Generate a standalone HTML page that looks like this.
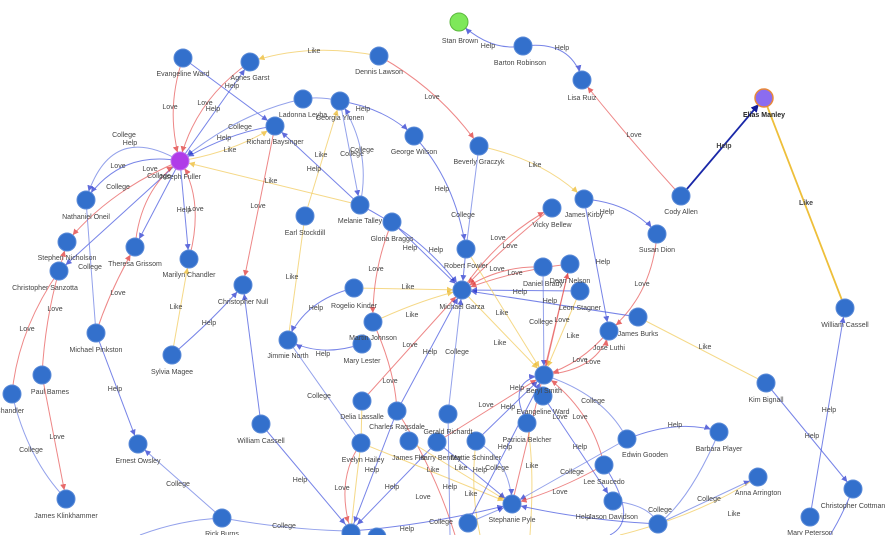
<!DOCTYPE html>
<html><head><meta charset="utf-8"><style>
html,body{margin:0;padding:0;background:#fff;width:885px;height:535px;overflow:hidden}
svg{display:block}
text{font-family:"Liberation Sans",sans-serif;font-size:7px;fill:#444;text-anchor:middle}
.h{stroke:#4a5be0;fill:none;stroke-width:1;opacity:.75}
.c{stroke:#6f82e4;fill:none;stroke-width:1;opacity:.75}
.l{stroke:#e85f5f;fill:none;stroke-width:1;opacity:.75}
.k{stroke:#f3cf6a;fill:none;stroke-width:1;opacity:.8}
.n{fill:#3370cc;stroke:#5a8ad8;stroke-width:1}
</style></head><body>
<svg width="885" height="535" viewBox="0 0 885 535">
<defs>
<marker id="ah" viewBox="0 0 6 6" refX="15" refY="3" markerWidth="6" markerHeight="6" markerUnits="userSpaceOnUse" orient="auto"><path d="M0,0L6,3L0,6z" fill="#2a3ad0"/></marker>
<marker id="al" viewBox="0 0 6 6" refX="15" refY="3" markerWidth="6" markerHeight="6" markerUnits="userSpaceOnUse" orient="auto"><path d="M0,0L6,3L0,6z" fill="#e03a3a"/></marker>
<marker id="ak" viewBox="0 0 6 6" refX="15" refY="3" markerWidth="6" markerHeight="6" markerUnits="userSpaceOnUse" orient="auto"><path d="M0,0L6,3L0,6z" fill="#eebf3a"/></marker>
<marker id="ab" viewBox="0 0 6 6" refX="12" refY="3" markerWidth="8" markerHeight="8" markerUnits="userSpaceOnUse" orient="auto"><path d="M0,0L6,3L0,6z" fill="#101a9a"/></marker>
</defs>
<g>
<path class="h" d="M523,46 Q490,52 459,22" marker-end="url(#ah)"/>
<path class="h" d="M523,46 Q572,40 582,80" marker-end="url(#ah)"/>
<path class="l" d="M681,196 Q630,140 582,80" marker-end="url(#al)"/>
<path d="M681,196 L764,98" stroke="#1a28a8" stroke-width="1.8" fill="none" marker-end="url(#ab)"/>
<path d="M845,308 L764,98" stroke="#eebf3a" stroke-width="1.8" fill="none"/>
<path class="k" d="M379,56 Q310,42 250,62" marker-end="url(#ak)"/>
<path class="l" d="M379,56 Q440,90 479,146" marker-end="url(#al)"/>
<path class="l" d="M183,58 Q165,110 180,161" marker-end="url(#al)"/>
<path class="h" d="M183,58 L275,126" marker-end="url(#ah)"/>
<path class="l" d="M250,62 Q195,100 180,161" marker-end="url(#al)"/>
<path class="h" d="M180,161 L250,62" marker-end="url(#ah)"/>
<path class="c" d="M303,99 Q240,112 180,161" marker-end="url(#ah)"/>
<path class="h" d="M275,126 Q230,132 180,161" marker-end="url(#ah)"/>
<path class="k" d="M180,161 Q235,152 275,126" marker-end="url(#ak)"/>
<path class="k" d="M360,205 L180,161" marker-end="url(#ak)"/>
<path class="c" d="M303,99 Q320,96 340,101"/>
<path class="h" d="M340,101 Q385,108 414,136" marker-end="url(#ah)"/>
<path class="c" d="M340,101 L360,205" marker-end="url(#ah)"/>
<path class="c" d="M360,205 Q372,150 340,101" marker-end="url(#ah)"/>
<path class="k" d="M305,216 L340,101" marker-end="url(#ak)"/>
<path class="h" d="M360,205 L275,126" marker-end="url(#ah)"/>
<path class="l" d="M275,126 L243,285" marker-end="url(#al)"/>
<path class="h" d="M414,136 Q455,180 466,249" marker-end="url(#ah)"/>
<path class="c" d="M479,146 L466,249"/>
<path class="k" d="M479,146 Q545,160 584,199" marker-end="url(#ak)"/>
<path class="h" d="M584,199 Q632,203 657,234" marker-end="url(#ah)"/>
<path class="h" d="M584,199 L609,331" marker-end="url(#ah)"/>
<path class="l" d="M657,234 Q652,295 609,331" marker-end="url(#al)"/>
<path class="c" d="M180,161 Q110,120 86,200" marker-end="url(#ah)"/>
<path class="h" d="M180,161 Q120,150 86,200" marker-end="url(#ah)"/>
<path class="l" d="M180,161 Q110,190 67,242" marker-end="url(#al)"/>
<path class="h" d="M180,161 L59,271" marker-end="url(#ah)"/>
<path class="l" d="M135,247 Q140,190 180,161" marker-end="url(#al)"/>
<path class="h" d="M180,161 L135,247" marker-end="url(#ah)"/>
<path class="h" d="M180,161 L189,259" marker-end="url(#ah)"/>
<path class="l" d="M189,259 Q205,200 180,161" marker-end="url(#al)"/>
<path class="c" d="M86,200 L96,333"/>
<path class="l" d="M59,271 L67,242" marker-end="url(#al)"/>
<path class="l" d="M96,333 Q110,290 135,247" marker-end="url(#al)"/>
<path class="l" d="M59,271 Q18,330 12,394"/>
<path class="l" d="M59,271 Q45,320 42,375"/>
<path class="l" d="M42,375 L66,499" marker-end="url(#al)"/>
<path class="c" d="M12,394 Q28,460 66,499"/>
<path class="h" d="M96,333 L138,444" marker-end="url(#ah)"/>
<path class="c" d="M222,518 L138,444" marker-end="url(#ah)"/>
<path class="k" d="M172,355 L189,259" marker-end="url(#ak)"/>
<path class="h" d="M172,355 Q215,318 243,285" marker-end="url(#ah)"/>
<path class="h" d="M261,424 L243,285" marker-end="url(#ah)"/>
<path class="h" d="M261,424 L351,531" marker-end="url(#ah)"/>
<path class="c" d="M222,518 Q290,530 351,531"/>
<path class="c" d="M140,535 Q180,520 222,518"/>
<path class="k" d="M305,216 L288,340"/>
<path class="h" d="M354,288 Q305,300 288,340" marker-end="url(#ah)"/>
<path class="h" d="M362,344 Q320,358 288,340" marker-end="url(#ah)"/>
<path class="c" d="M288,340 Q330,400 361,443"/>
<path class="k" d="M354,288 L462,290" marker-end="url(#ak)"/>
<path class="l" d="M392,222 Q372,270 373,322" marker-end="url(#al)"/>
<path class="h" d="M392,222 L462,290" marker-end="url(#ah)"/>
<path class="h" d="M360,205 Q425,238 462,290" marker-end="url(#ah)"/>
<path class="h" d="M466,249 L462,290" marker-end="url(#ah)"/>
<path class="l" d="M462,290 Q500,235 552,208" marker-end="url(#al)"/>
<path class="l" d="M552,208 Q505,245 462,290" marker-end="url(#al)"/>
<path class="l" d="M543,267 Q500,265 462,290" marker-end="url(#al)"/>
<path class="l" d="M570,264 Q515,270 462,290" marker-end="url(#al)"/>
<path class="h" d="M580,291 L462,290" marker-end="url(#ah)"/>
<path class="h" d="M638,317 L462,290" marker-end="url(#ah)"/>
<path class="k" d="M373,322 Q420,300 462,290" marker-end="url(#ak)"/>
<path class="l" d="M362,401 L462,290" marker-end="url(#al)"/>
<path class="h" d="M397,411 L462,290" marker-end="url(#ah)"/>
<path class="c" d="M448,414 L462,290" marker-end="url(#ah)"/>
<path class="k" d="M462,290 L544,375" marker-end="url(#ak)"/>
<path class="k" d="M466,249 L544,375" marker-end="url(#ak)"/>
<path class="c" d="M543,267 L544,375" marker-end="url(#ah)"/>
<path class="l" d="M570,264 L544,375" marker-end="url(#al)"/>
<path class="k" d="M580,291 L544,375" marker-end="url(#ak)"/>
<path class="l" d="M609,331 Q580,365 544,375" marker-end="url(#al)"/>
<path class="l" d="M544,375 Q600,370 609,331" marker-end="url(#al)"/>
<path class="k" d="M638,317 L766,383"/>
<path class="h" d="M766,383 L853,489" marker-end="url(#ah)"/>
<path class="h" d="M810,517 L845,308" marker-end="url(#ah)"/>
<path class="l" d="M373,322 Q395,370 397,411"/>
<path class="l" d="M397,411 Q435,470 455,535"/>
<path class="k" d="M362,401 L361,443"/>
<path class="l" d="M361,443 Q335,480 351,531" marker-end="url(#al)"/>
<path class="k" d="M361,443 Q355,490 351,531"/>
<path class="h" d="M397,411 L351,531" marker-end="url(#ah)"/>
<path class="h" d="M437,442 L351,531" marker-end="url(#ah)"/>
<path class="k" d="M361,443 L512,504" marker-end="url(#ak)"/>
<path class="k" d="M409,441 L512,504" marker-end="url(#ak)"/>
<path class="h" d="M437,442 L512,504" marker-end="url(#ah)"/>
<path class="c" d="M448,414 L450,535"/>
<path class="l" d="M437,442 L544,375" marker-end="url(#al)"/>
<path class="h" d="M476,441 L544,375" marker-end="url(#ah)"/>
<path class="h" d="M527,423 Q505,380 544,375" marker-end="url(#ah)"/>
<path class="k" d="M527,423 Q535,465 530,535"/>
<path class="k" d="M476,441 Q470,490 480,535"/>
<path class="h" d="M543,396 L613,501" marker-end="url(#ah)"/>
<path class="c" d="M544,375 Q605,395 627,439"/>
<path class="l" d="M604,465 Q592,410 544,375" marker-end="url(#al)"/>
<path class="l" d="M512,504 L570,264" marker-end="url(#al)"/>
<path class="h" d="M468,523 L544,375" marker-end="url(#ah)"/>
<path class="c" d="M627,439 L512,504" marker-end="url(#ah)"/>
<path class="l" d="M604,465 Q560,490 512,504" marker-end="url(#al)"/>
<path class="h" d="M658,524 Q580,520 512,504" marker-end="url(#ah)"/>
<path class="c" d="M468,523 L512,504" marker-end="url(#ah)"/>
<path class="h" d="M351,531 Q430,525 512,504" marker-end="url(#ah)"/>
<path class="h" d="M627,439 Q680,418 719,432" marker-end="url(#ah)"/>
<path class="c" d="M613,501 Q650,505 658,524"/>
<path class="c" d="M658,524 L758,477" marker-end="url(#ah)"/>
<path class="k" d="M620,535 Q700,515 758,477"/>
<path class="c" d="M476,441 Q510,460 512,504" marker-end="url(#ah)"/>
<path class="h" d="M604,465 Q640,520 610,535"/>
<path class="c" d="M719,432 Q690,500 658,524"/>
<path class="h" d="M853,489 Q840,520 830,535"/>
</g>
<g>
<text x="488" y="48">Help</text><text x="562" y="50">Help</text><text x="634" y="137">Love</text>
<text x="724" y="148" style="font-weight:bold">Help</text><text x="806" y="205" style="font-weight:bold">Like</text>
<text x="314" y="53">Like</text><text x="432" y="99">Love</text><text x="170" y="109">Love</text>
<text x="205" y="105">Love</text><text x="213" y="111">Help</text><text x="232" y="88">Help</text>
<text x="240" y="129">College</text><text x="224" y="140">Help</text><text x="230" y="152">Like</text>
<text x="271" y="183">Like</text><text x="363" y="111">Help</text><text x="352" y="156">College</text><text x="362" y="152">College</text>
<text x="321" y="157">Like</text><text x="314" y="171">Help</text><text x="258" y="208">Love</text>
<text x="442" y="191">Help</text><text x="463" y="217">College</text><text x="535" y="167">Like</text>
<text x="607" y="214">Help</text><text x="603" y="264">Help</text><text x="642" y="286">Love</text>
<text x="124" y="137">College</text><text x="130" y="145">Help</text><text x="118" y="168">Love</text>
<text x="118" y="189">College</text><text x="150" y="171">Love</text><text x="159" y="178">College</text>
<text x="184" y="212">Help</text><text x="196" y="211">Love</text><text x="90" y="269">College</text>
<text x="118" y="295">Love</text><text x="27" y="331">Love</text><text x="55" y="311">Love</text>
<text x="57" y="439">Love</text><text x="31" y="452">College</text><text x="115" y="391">Help</text>
<text x="178" y="486">College</text><text x="176" y="309">Like</text><text x="209" y="325">Help</text>
<text x="300" y="482">Help</text><text x="284" y="528">College</text><text x="292" y="279">Like</text>
<text x="316" y="310">Help</text><text x="323" y="356">Help</text><text x="319" y="398">College</text>
<text x="408" y="289">Like</text><text x="376" y="271">Love</text><text x="410" y="250">Help</text><text x="436" y="252">Help</text>
<text x="498" y="240">Love</text><text x="510" y="248">Love</text><text x="497" y="271">Love</text><text x="515" y="275">Love</text>
<text x="520" y="294">Help</text><text x="550" y="303">Help</text><text x="412" y="317">Like</text>
<text x="410" y="347">Love</text><text x="430" y="354">Help</text><text x="457" y="354">College</text>
<text x="500" y="345">Like</text><text x="502" y="315">Like</text><text x="541" y="324">College</text>
<text x="562" y="322">Love</text><text x="573" y="338">Like</text><text x="580" y="362">Love</text><text x="593" y="364">Love</text>
<text x="705" y="349">Like</text><text x="812" y="438">Help</text><text x="829" y="412">Help</text>
<text x="390" y="383">Love</text><text x="423" y="499">Love</text><text x="342" y="490">Love</text>
<text x="372" y="472">Help</text><text x="392" y="489">Help</text><text x="433" y="472">Like</text>
<text x="461" y="470">Like</text><text x="480" y="472">Help</text><text x="450" y="489">Help</text>
<text x="486" y="407">Love</text><text x="508" y="409">Help</text><text x="517" y="390">Help</text>
<text x="532" y="468">Like</text><text x="580" y="449">Help</text><text x="593" y="403">College</text>
<text x="580" y="419">Love</text><text x="560" y="419">Love</text><text x="505" y="449">Help</text>
<text x="572" y="474">College</text><text x="560" y="494">Love</text><text x="583" y="519">Help</text>
<text x="441" y="524">College</text><text x="407" y="531">Help</text><text x="675" y="427">Help</text>
<text x="660" y="512">College</text><text x="709" y="501">College</text><text x="734" y="516">Like</text>
<text x="497" y="470">College</text><text x="471" y="496">Like</text>
</g>
<g>
<circle cx="459" cy="22" r="9" fill="#7ee85a" stroke="#5cb83e"/>
<circle cx="764" cy="98" r="9" fill="#8b6cf0" stroke="#e8893a" stroke-width="1.5"/>
<circle cx="180" cy="161" r="9" fill="#b03be8" stroke="#c070f0"/>
<circle class="n" cx="523" cy="46" r="9"/><circle class="n" cx="582" cy="80" r="9"/>
<circle class="n" cx="183" cy="58" r="9"/><circle class="n" cx="250" cy="62" r="9"/><circle class="n" cx="379" cy="56" r="9"/>
<circle class="n" cx="303" cy="99" r="9"/><circle class="n" cx="340" cy="101" r="9"/><circle class="n" cx="275" cy="126" r="9"/>
<circle class="n" cx="414" cy="136" r="9"/><circle class="n" cx="479" cy="146" r="9"/><circle class="n" cx="86" cy="200" r="9"/>
<circle class="n" cx="67" cy="242" r="9"/><circle class="n" cx="59" cy="271" r="9"/><circle class="n" cx="135" cy="247" r="9"/>
<circle class="n" cx="189" cy="259" r="9"/><circle class="n" cx="305" cy="216" r="9"/><circle class="n" cx="360" cy="205" r="9"/>
<circle class="n" cx="392" cy="222" r="9"/><circle class="n" cx="584" cy="199" r="9"/><circle class="n" cx="552" cy="208" r="9"/>
<circle class="n" cx="681" cy="196" r="9"/><circle class="n" cx="657" cy="234" r="9"/><circle class="n" cx="466" cy="249" r="9"/>
<circle class="n" cx="243" cy="285" r="9"/><circle class="n" cx="543" cy="267" r="9"/><circle class="n" cx="570" cy="264" r="9"/>
<circle class="n" cx="462" cy="290" r="9"/><circle class="n" cx="580" cy="291" r="9"/><circle class="n" cx="354" cy="288" r="9"/>
<circle class="n" cx="845" cy="308" r="9"/><circle class="n" cx="373" cy="322" r="9"/><circle class="n" cx="362" cy="344" r="9"/>
<circle class="n" cx="288" cy="340" r="9"/><circle class="n" cx="96" cy="333" r="9"/><circle class="n" cx="638" cy="317" r="9"/>
<circle class="n" cx="609" cy="331" r="9"/><circle class="n" cx="172" cy="355" r="9"/><circle class="n" cx="544" cy="375" r="9"/>
<circle class="n" cx="42" cy="375" r="9"/><circle class="n" cx="12" cy="394" r="9"/><circle class="n" cx="766" cy="383" r="9"/>
<circle class="n" cx="362" cy="401" r="9"/><circle class="n" cx="397" cy="411" r="9"/><circle class="n" cx="543" cy="396" r="9"/>
<circle class="n" cx="448" cy="414" r="9"/><circle class="n" cx="527" cy="423" r="9"/><circle class="n" cx="261" cy="424" r="9"/>
<circle class="n" cx="627" cy="439" r="9"/><circle class="n" cx="719" cy="432" r="9"/><circle class="n" cx="138" cy="444" r="9"/>
<circle class="n" cx="361" cy="443" r="9"/><circle class="n" cx="409" cy="441" r="9"/><circle class="n" cx="437" cy="442" r="9"/>
<circle class="n" cx="476" cy="441" r="9"/><circle class="n" cx="604" cy="465" r="9"/><circle class="n" cx="758" cy="477" r="9"/>
<circle class="n" cx="853" cy="489" r="9"/><circle class="n" cx="66" cy="499" r="9"/><circle class="n" cx="512" cy="504" r="9"/>
<circle class="n" cx="613" cy="501" r="9"/><circle class="n" cx="658" cy="524" r="9"/><circle class="n" cx="222" cy="518" r="9"/>
<circle class="n" cx="351" cy="533" r="9"/><circle class="n" cx="377" cy="537" r="9"/><circle class="n" cx="468" cy="523" r="9"/>
<circle class="n" cx="810" cy="517" r="9"/>
</g>
<g>
<text x="460" y="43">Stan Brown</text><text x="520" y="65">Barton Robinson</text><text x="582" y="100">Lisa Ruiz</text>
<text x="764" y="117" style="font-weight:bold;fill:#222">Elias Manley</text>
<text x="183" y="76">Evangeline Ward</text><text x="250" y="80">Agnes Garst</text><text x="379" y="74">Dennis Lawson</text>
<text x="303" y="117">Ladonna Leyba</text><text x="340" y="120">Georgia Ylonen</text><text x="275" y="144">Richard Baysinger</text>
<text x="414" y="154">George Wilson</text><text x="180" y="179">Joseph Fuller</text><text x="479" y="164">Beverly Graczyk</text>
<text x="86" y="219">Nathaniel Oneil</text><text x="67" y="260">Stephen Nicholson</text><text x="45" y="290">Christopher Sanzotta</text>
<text x="135" y="266">Theresa Grissom</text><text x="189" y="277">Marilyn Chandler</text><text x="305" y="235">Earl Stockdill</text>
<text x="360" y="223">Melanie Talley</text><text x="392" y="241">Gloria Braggs</text><text x="584" y="217">James Kirby</text>
<text x="552" y="227">Vicky Bellew</text><text x="681" y="214">Cody Allen</text><text x="657" y="252">Susan Dion</text>
<text x="466" y="268">Robert Fowler</text><text x="243" y="304">Christopher Null</text><text x="543" y="286">Daniel Brady</text>
<text x="570" y="283">Dean Nelson</text><text x="462" y="309">Michael Garza</text><text x="580" y="310">Leon Stagner</text>
<text x="354" y="308">Rogelio Kinder</text><text x="845" y="327">William Cassell</text><text x="373" y="340">Martin Johnson</text>
<text x="362" y="363">Mary Lester</text><text x="288" y="358">Jimmie North</text><text x="96" y="352">Michael Pinkston</text>
<text x="638" y="336">James Burks</text><text x="609" y="350">Jose Luthi</text><text x="172" y="374">Sylvia Magee</text>
<text x="544" y="393">Beryl Smith</text><text x="50" y="394">Paul Barnes</text><text x="5" y="413">an Chandler</text>
<text x="766" y="402">Kim Bignall</text><text x="362" y="419">Delia Lassalle</text><text x="397" y="429">Charles Ragsdale</text>
<text x="543" y="414">Evangeline Ward</text><text x="448" y="434">Gerald Richardt</text><text x="527" y="442">Patricia Belcher</text>
<text x="261" y="443">William Cassell</text><text x="645" y="457">Edwin Gooden</text><text x="719" y="451">Barbara Player</text>
<text x="138" y="463">Ernest Owsley</text><text x="363" y="462">Evelyn Hailey</text><text x="409" y="460">James Fitz</text>
<text x="440" y="460">Harry Bentley</text><text x="476" y="460">Mattie Schindler</text><text x="604" y="484">Lee Saucedo</text>
<text x="758" y="495">Anna Arrington</text><text x="853" y="508">Christopher Cottman</text><text x="66" y="518">James Klinkhammer</text>
<text x="512" y="522">Stephanie Pyle</text><text x="613" y="519">Jason Davidson</text><text x="222" y="536">Rick Burns</text>
<text x="810" y="535">Mary Peterson</text>
</g>
</svg>
</body></html>
